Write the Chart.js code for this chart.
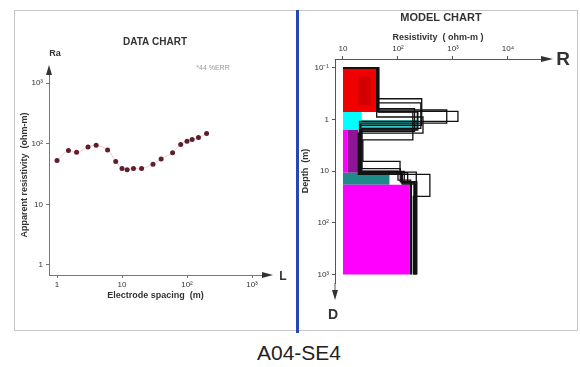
<!DOCTYPE html>
<html>
<head>
<meta charset="utf-8">
<script src="https://cdn.jsdelivr.net/npm/chart.js@4.4.1/dist/chart.umd.min.js"></script>
<style>
  body { margin: 0; width: 580px; height: 367px; background: #fff; position: relative; overflow: hidden; font-family: 'Liberation Sans', Arial, sans-serif; }
  #frame { position: absolute; left: 14px; top: 10px; width: 564px; height: 321px; border: 1px solid #c6c6c6; box-sizing: border-box; }
  #divider { position: absolute; left: 296px; top: 10px; width: 3px; height: 323px; background: #2347b5; }
  #dataBox { position: absolute; left: 14px; top: 10px; width: 282px; height: 320px; }
  #modelBox { position: absolute; left: 300px; top: 10px; width: 277px; height: 320px; }
  #caption { position: absolute; left: 0; top: 342px; width: 598px; text-align: center; font-size: 21px; line-height: 21px; color: #222; }
</style>
</head>
<body>
<div id="frame"></div>
<div id="dataBox"><canvas id="dataChart"></canvas></div>
<div id="modelBox"><canvas id="modelChart"></canvas></div>
<div id="divider"></div>
<div id="caption">A04-SE4</div>
<script>
// curva de campo: AB/2 (m) y resistividad aparente (ohm-m)
const spacing = [1, 1.5, 2, 3, 4, 6, 8, 10, 12, 15, 20, 30, 40, 60, 80, 100, 120, 150, 200];
const apparentRes = [53, 77, 72, 88, 94, 79, 51, 39, 37, 39, 39, 46, 56, 71, 97, 110, 117, 126, 147];

const spacingTicks = [1, 10, 100, 1000];
const spacingTickLabels = ['1', '10', '10²', '10³'];
const appResTicks = [1, 10, 100, 1000];
const appResTickLabels = ['1', '10', '10²', '10³'];

const resTicks = [10, 100, 1000, 10000];
const resTickLabels = ['10', '10²', '10³', '10⁴'];
const depthTicks = [0.1, 1, 10, 100, 1000];
const depthTickLabels = ['10⁻¹', '1', '10', '10²', '10³'];

// capas coloreadas del modelo (ohm-m / m)
const fillRhoMin = [10, 19, 10, 22, 10, 12.3, 10, 10];
const fillRhoMax = [43, 32, 22, 225, 12.3, 19, 70, 165];
const fillTop = [0.1, 0.15, 0.72, 1.03, 1.6, 1.6, 10.8, 18.5];
const fillBottom = [0.72, 0.53, 1.6, 1.49, 10.8, 10.8, 18.5, 1000];
const fillColors = ['#f00000', '#d20000', '#00ffff', '#35c9c9', '#ff00ff', '#8e1596', '#1f8a8a', '#ff00ff'];

// modelos equivalentes: resistividad de cada capa y profundidad de la base
const modelRho = [
  [43, 270, 21, 115, 205],
  [42, 260, 22, 110, 195],
  [44, 1230, 20, 120, 210],
  [43, 770, 21, 130, 200],
  [41, 285, 19, 380, 190],
  [43, 186, 23, 109, 215],
  [44, 225, 20, 150, 220],
  [45, 230, 22, 120, 175],
  [42, 200, 21, 100, 170]
];
const modelBottom = [
  [0.40, 1.3, 10.5, 17],
  [0.48, 1.5, 9.0, 16],
  [0.70, 1.09, 11, 18],
  [0.66, 1.18, 10.2, 17],
  [0.90, 1.85, 11.6, 31],
  [0.72, 2.5, 6.5, 10.5],
  [0.72, 1.6, 10.8, 16],
  [0.72, 1.6, 10.8, 17],
  [0.62, 1.7, 10, 15]
];
const depthTop = 0.1;
const depthEnd = 1000;
const rhoStart = 10;

const axisFont = { family: "'Liberation Sans', Arial, sans-serif", size: 9, weight: 'bold' };
const tickFont = { family: "'Liberation Sans', Arial, sans-serif", size: 8 };

function arrowHead(ctx, x, y, dir, len, half) {
  ctx.beginPath();
  if (dir === 'up') { ctx.moveTo(x - half, y); ctx.lineTo(x + half, y); ctx.lineTo(x, y - len); }
  if (dir === 'down') { ctx.moveTo(x - half, y); ctx.lineTo(x + half, y); ctx.lineTo(x, y + len); }
  if (dir === 'right') { ctx.moveTo(x, y - half); ctx.lineTo(x, y + half); ctx.lineTo(x + len, y); }
  ctx.closePath();
  ctx.fill();
}

const dataDecor = {
  id: 'dataDecor',
  afterDraw(chart) {
    const { ctx, chartArea: a } = chart;
    ctx.save();
    ctx.fillStyle = '#333';
    arrowHead(ctx, a.left, a.top, 'up', 10, 3);
    arrowHead(ctx, a.right, a.bottom, 'right', 11, 3);
    ctx.textAlign = 'center';
    ctx.textBaseline = 'middle';
    ctx.font = "bold 9px 'Liberation Sans', Arial, sans-serif";
    ctx.fillText('Ra', a.left + 6, a.top - 21);
    ctx.font = "bold 10px 'Liberation Sans', Arial, sans-serif";
    ctx.fillText('DATA CHART', 141, 32);
    ctx.font = "bold 12px 'Liberation Sans', Arial, sans-serif";
    ctx.fillText('L', a.right + 21, a.bottom + 2);
    ctx.fillStyle = '#999';
    ctx.font = "7px 'Liberation Sans', Arial, sans-serif";
    ctx.fillText('*44 %ERR', 199, 58);
    ctx.restore();
  }
};

new Chart(document.getElementById('dataChart'), {
  type: 'scatter',
  data: {
    datasets: [{
      label: 'Apparent resistivity',
      data: spacing.map((s, i) => ({ x: s, y: apparentRes[i] })),
      pointRadius: 2.5,
      pointBorderWidth: 0,
      pointBackgroundColor: '#5e1f2d',
      showLine: true,
      borderColor: '#f6c6cc',
      borderWidth: 1,
      tension: 0.4
    }]
  },
  options: {
    responsive: true,
    maintainAspectRatio: false,
    animation: false,
    layout: { padding: { top: 65, right: 34, bottom: 27, left: 0 } },
    plugins: { legend: { display: false }, tooltip: { enabled: false } },
    scales: {
      x: {
        type: 'logarithmic',
        min: 0.753,
        max: 1425,
        afterFit: (scale) => { scale.height = 28; },
        afterBuildTicks: (scale) => { scale.ticks = spacingTicks.map(v => ({ value: v })); },
        ticks: { callback: (v, i) => spacingTickLabels[i], font: tickFont, color: '#333', padding: 2, maxRotation: 0, autoSkip: false },
        grid: { drawOnChartArea: false, tickLength: 3, color: '#777' },
        border: { color: '#777' },
        title: { display: true, text: 'Electrode spacing  (m)', font: axisFont, color: '#333', padding: { top: 0, bottom: 2 } }
      },
      y: {
        type: 'logarithmic',
        min: 0.684,
        max: 1355,
        afterFit: (scale) => { scale.width = 35; },
        afterBuildTicks: (scale) => { scale.ticks = appResTicks.map(v => ({ value: v })); },
        ticks: { callback: (v, i) => appResTickLabels[i], font: tickFont, color: '#333', padding: 3, autoSkip: false },
        grid: { drawOnChartArea: false, tickLength: 3, color: '#777' },
        border: { color: '#777' },
        title: { display: true, text: 'Apparent resistivity  (ohm-m)', font: axisFont, color: '#333', padding: { top: 5, bottom: 0 } }
      }
    }
  },
  plugins: [dataDecor]
});

// grafico del modelo
const modelDatasets = [];
modelRho.forEach((rho, m) => {
  const pts = [{ x: rhoStart, y: depthTop }, { x: rho[0], y: depthTop }];
  modelBottom[m].forEach((d, i) => {
    pts.push({ x: rho[i], y: d });
    pts.push({ x: rho[i + 1], y: d });
  });
  pts.push({ x: rho[rho.length - 1], y: depthEnd });
  modelDatasets.push({
    data: pts,
    showLine: true,
    borderColor: '#111',
    borderWidth: 1.3,
    pointRadius: 0,
    fill: false,
    order: 0
  });
});
fillColors.forEach((c, i) => {
  const r0 = fillRhoMin[i], r1 = fillRhoMax[i], d0 = fillTop[i], d1 = fillBottom[i];
  modelDatasets.push({
    data: [{ x: r0, y: d0 }, { x: r1, y: d0 }, { x: r1, y: d1 }, { x: r0, y: d1 }, { x: r0, y: d0 }],
    showLine: true,
    borderWidth: 0,
    borderColor: c,
    backgroundColor: c,
    pointRadius: 0,
    fill: 'shape',
    order: 100 - i
  });
});

const modelDecor = {
  id: 'modelDecor',
  afterDraw(chart) {
    const { ctx, chartArea: a } = chart;
    ctx.save();
    ctx.fillStyle = '#333';
    ctx.strokeStyle = '#555';
    arrowHead(ctx, a.right, a.top, 'right', 12, 3);
    ctx.beginPath();
    ctx.moveTo(a.left, a.bottom);
    ctx.lineTo(a.left, a.bottom + 7);
    ctx.stroke();
    arrowHead(ctx, a.left, a.bottom + 7, 'down', 10, 3);
    ctx.textAlign = 'center';
    ctx.textBaseline = 'middle';
    ctx.font = "bold 11px 'Liberation Sans', Arial, sans-serif";
    ctx.fillText('MODEL CHART', 141, 8);
    ctx.font = "bold 19px 'Liberation Sans', Arial, sans-serif";
    ctx.fillText('R', a.right + 22, a.top + 1);
    ctx.font = "bold 14px 'Liberation Sans', Arial, sans-serif";
    ctx.fillText('D', a.left - 2, a.bottom + 32);
    ctx.restore();
  }
};

new Chart(document.getElementById('modelChart'), {
  type: 'scatter',
  data: { datasets: modelDatasets },
  options: {
    responsive: true,
    maintainAspectRatio: false,
    animation: false,
    layout: { padding: { top: 0, right: 36, bottom: 47, left: 0 } },
    plugins: { legend: { display: false }, tooltip: { enabled: false } },
    scales: {
      x: {
        type: 'logarithmic',
        position: 'top',
        min: 7.16,
        max: 39810,
        afterFit: (scale) => { scale.height = 49; },
        afterBuildTicks: (scale) => { scale.ticks = resTicks.map(v => ({ value: v })); },
        ticks: { callback: (v, i) => resTickLabels[i], font: tickFont, color: '#333', padding: 2, maxRotation: 0, autoSkip: false },
        grid: { drawOnChartArea: false, tickLength: 3, color: '#555' },
        border: { color: '#555' },
        title: { display: true, text: 'Resistivity  ( ohm-m )', font: axisFont, color: '#333', padding: { top: 22, bottom: 0 } }
      },
      y: {
        type: 'logarithmic',
        reverse: true,
        min: 0.068,
        max: 1467,
        afterFit: (scale) => { scale.width = 35; },
        afterBuildTicks: (scale) => { scale.ticks = depthTicks.map(v => ({ value: v })); },
        ticks: { callback: (v, i) => depthTickLabels[i], font: tickFont, color: '#333', padding: 3, autoSkip: false },
        grid: { drawOnChartArea: false, tickLength: 3, color: '#555' },
        border: { color: '#555' },
        title: { display: true, text: 'Depth  (m)', font: axisFont, color: '#333', padding: { top: 0, bottom: 0 } }
      }
    }
  },
  plugins: [modelDecor]
});
</script>
</body>
</html>
